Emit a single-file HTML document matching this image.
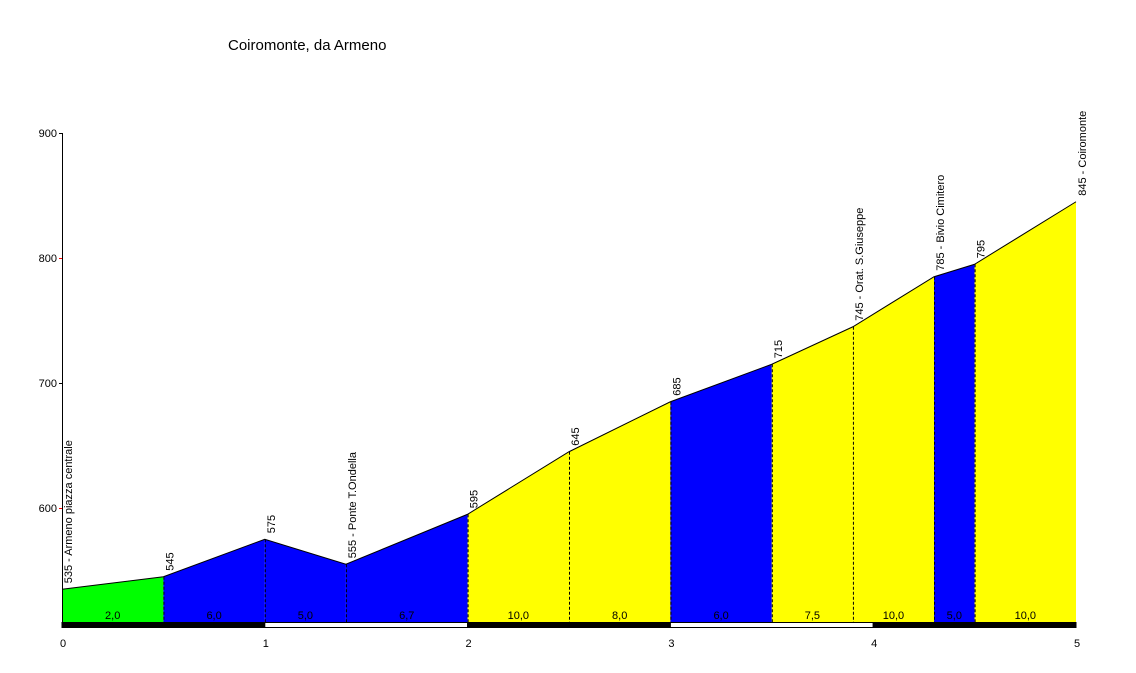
<!DOCTYPE html>
<html><head><meta charset="utf-8"><style>
html,body{margin:0;padding:0;background:#fff;}
svg{display:block;font-family:"Liberation Sans",sans-serif;}
</style></head><body>
<svg id="c" width="1136" height="673" viewBox="0 0 1136 673">
<text x="228" y="50" font-size="15">Coiromonte, da Armeno</text>
<g id="plot"></g>
</svg>
<script>
const distances=[0,0.5,1.0,1.4,2.0,2.5,3.0,3.5,3.9,4.3,4.5,5.0];
const elevations=[535,545,575,555,595,645,685,715,745,785,795,845];
const pointLabels=["535 - Armeno piazza centrale","545","575","555 - Ponte T.Ondella","595","645","685","715","745 - Orat. S.Giuseppe","785 - Bivio Cimitero","795","845 - Coiromonte"];
const gradients=["2,0","6,0","5,0","6,7","10,0","8,0","6,0","7,5","10,0","5,0","10,0"];
const segColors=["#00ff00","#0000ff","#0000ff","#0000ff","#ffff00","#ffff00","#0000ff","#ffff00","#ffff00","#0000ff","#ffff00"];
const yTicks=[600,700,800,900];
const xTicks=[0,1,2,3,4,5];
const NS="http://www.w3.org/2000/svg";
const g=document.getElementById('plot');
const X=d=>62+d*202.8;
const Y=e=>508-(e-600)*1.25;
const BASE=622;
function mk(t,a){const e=document.createElementNS(NS,t);for(const k in a)e.setAttribute(k,a[k]);g.appendChild(e);return e;}
for(let i=0;i<distances.length-1;i++){
 const x1=X(distances[i]),x2=X(distances[i+1]);
 const p=mk('polygon',{points:`${x1},${BASE} ${x1},${Y(elevations[i])} ${x2},${Y(elevations[i+1])} ${x2},${BASE}`,fill:segColors[i]});
 
 
 const t=mk('text',{x:(x1+x2)/2,y:BASE-3,'font-size':11,'text-anchor':'middle'});
 t.textContent=gradients[i];
 
 
}
for(let i=1;i<distances.length-1;i++){
 const l=mk('line',{x1:X(distances[i])+0.5,x2:X(distances[i])+0.5,y1:Y(elevations[i]),y2:BASE,stroke:'#000','stroke-dasharray':'3,2'});
 
 
}
const pl=mk('polyline',{points:distances.map((d,i)=>X(d)+','+Y(elevations[i])).join(' '),fill:'none',stroke:'#000','stroke-width':1});


distances.forEach((d,i)=>{
 const x=X(d)+10,y=Y(elevations[i])-6;
 const t=mk('text',{x:0,y:0,'font-size':11,transform:`translate(${x},${y}) rotate(-90)`});
 t.textContent=pointLabels[i];
 
 
});
const ax=mk('line',{x1:62.5,x2:62.5,y1:133,y2:BASE,stroke:'#000'});


yTicks.forEach(v=>{
 const tk=mk('line',{x1:59,x2:62,y1:Y(v)+0.5,y2:Y(v)+0.5,stroke:v===600||v===800?'#f00':'#000'});
 
 
 const t=mk('text',{x:57,y:Y(v)+4,'font-size':11,'text-anchor':'end'});
 t.textContent=v;
 
 
});
for(let k=0;k<5;k++){
 const r=mk('rect',{x:X(k),y:BASE+0.5,width:202.8,height:5,fill:k%2===1?'#fff':'#000',stroke:'#000','stroke-width':1});
 
 
}
xTicks.forEach(v=>{
 const t=mk('text',{x:X(v)+1,y:647,'font-size':11,'text-anchor':'middle'});
 t.textContent=v;
 
 
});
</script>
</body></html>
